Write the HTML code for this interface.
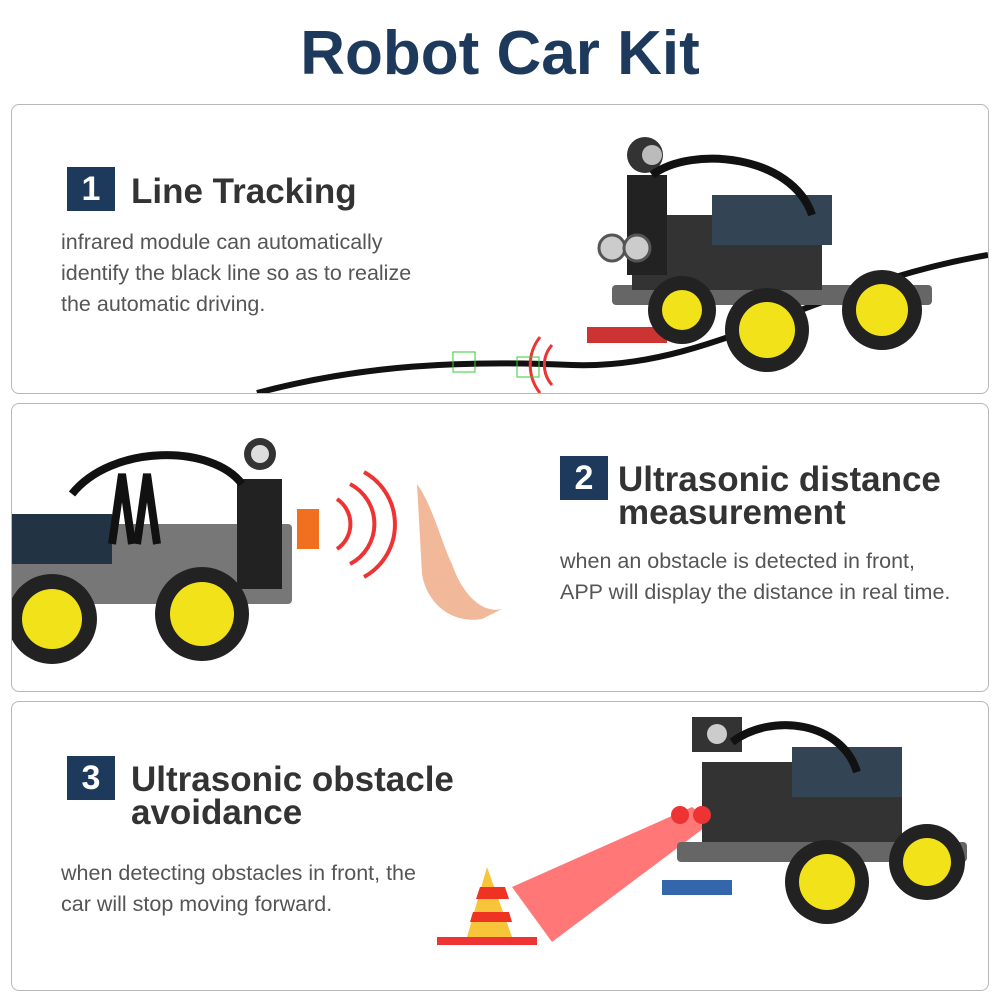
<!DOCTYPE html>
<html><head><meta charset="utf-8"><style>
body{margin:0;width:1000px;height:1000px;background:#fff;position:relative;overflow:hidden;font-family:"Liberation Sans",sans-serif}
.t{position:absolute;left:0;width:1000px;top:18px;text-align:center;font-size:62px;font-weight:bold;color:#1d3a5c}
.p{position:absolute;left:11px;width:976px;border:1px solid #b8b8b8;border-radius:8px;background:#fff;overflow:hidden}
.b{position:absolute;width:48px;height:44px;background:#1d3a5c;color:#fff;font-size:34px;font-weight:bold;text-align:center;line-height:44px}
.h{position:absolute;font-size:35px;font-weight:bold;color:#333;line-height:33px}
.x{position:absolute;font-size:21.5px;color:#555;line-height:31px}
svg{position:absolute;left:0;top:0}
</style></head><body>
<div class="t">Robot Car Kit</div>

<div class="p" style="top:104px;height:288px">
<svg width="976" height="288">
<path d="M245 288 C350 260 450 255 560 260 C700 265 800 180 976 150" stroke="#111" stroke-width="6" fill="none"/>
<path d="M540 240 a30 30 0 0 0 0 40 M528 232 a45 45 0 0 0 0 56" stroke="#e33" stroke-width="3" fill="none"/>
<rect x="575" y="222" width="80" height="16" fill="#c33"/>
<rect x="600" y="180" width="320" height="20" fill="#666" rx="4"/>
<rect x="620" y="110" width="190" height="75" fill="#333"/>
<rect x="700" y="90" width="120" height="50" fill="#345"/>
<circle cx="633" cy="50" r="18" fill="#333"/><circle cx="640" cy="50" r="10" fill="#bbb"/>
<rect x="615" y="70" width="40" height="100" fill="#222"/>
<circle cx="600" cy="143" r="13" fill="#ccc" stroke="#555" stroke-width="3"/><circle cx="625" cy="143" r="13" fill="#ccc" stroke="#555" stroke-width="3"/>
<path d="M640 70 C680 40 780 50 800 110" stroke="#111" stroke-width="8" fill="none"/>
<circle cx="755" cy="225" r="42" fill="#222"/><circle cx="755" cy="225" r="28" fill="#f2e21a"/>
<circle cx="870" cy="205" r="40" fill="#222"/><circle cx="870" cy="205" r="26" fill="#f2e21a"/>
<circle cx="670" cy="205" r="34" fill="#222"/><circle cx="670" cy="205" r="20" fill="#f2e21a"/>
<rect x="441" y="247" width="22" height="20" fill="none" stroke="#3c3"/><rect x="505" y="252" width="22" height="20" fill="none" stroke="#3c3"/>
</svg>
<div class="b" style="left:55px;top:62px">1</div>
<div class="h" style="left:119px;top:70px">Line Tracking</div>
<div class="x" style="left:49px;top:122px">infrared module can automatically<br>identify the black line so as to realize<br>the automatic driving.</div>
</div>

<div class="p" style="top:403px;height:287px">
<svg width="976" height="287">
<rect x="0" y="120" width="280" height="80" fill="#777" rx="4"/>
<rect x="0" y="110" width="100" height="50" fill="#234"/>
<rect x="225" y="75" width="45" height="110" fill="#222"/>
<circle cx="248" cy="50" r="16" fill="#333"/><circle cx="248" cy="50" r="9" fill="#ddd"/>
<rect x="285" y="105" width="22" height="40" fill="#f07020"/>
<path d="M60 90 C100 40 200 40 230 80" stroke="#111" stroke-width="8" fill="none"/>
<path d="M100 140 l10 -70 l10 70 M125 140 l10 -70 l10 70" stroke="#111" stroke-width="8" fill="none"/>
<path d="M325 95 a30 30 0 0 1 0 50 M338 80 a45 45 0 0 1 0 80 M352 68 a60 60 0 0 1 0 105" stroke="#e33" stroke-width="4" fill="none"/>
<path d="M405 80 C420 100 430 140 440 160 C450 190 470 210 490 205 L470 215 C440 220 415 200 410 170 Z" fill="#f1b99a"/>
<circle cx="40" cy="215" r="45" fill="#222"/><circle cx="40" cy="215" r="30" fill="#f2e21a"/>
<circle cx="190" cy="210" r="47" fill="#222"/><circle cx="190" cy="210" r="32" fill="#f2e21a"/>
</svg>
<div class="b" style="left:548px;top:52px">2</div>
<div class="h" style="left:606px;top:59px">Ultrasonic distance<br>measurement</div>
<div class="x" style="left:548px;top:142px">when an obstacle is detected in front,<br>APP will display the distance in real time.</div>
</div>

<div class="p" style="top:701px;height:288px">
<svg width="976" height="288">
<path d="M680 105 L500 185 L540 240 L700 120 Z" fill="#f55" opacity="0.8"/>
<path d="M475 165 L455 235 L500 235 Z" fill="#f7c43a"/><path d="M468 185 l25 0 l4 12 l-33 0 z M461 210 l36 0 l3 10 l-42 0z" fill="#ee3322"/>
<rect x="425" y="235" width="100" height="8" fill="#e33"/>
<rect x="665" y="140" width="290" height="20" fill="#666" rx="4"/>
<rect x="690" y="60" width="200" height="80" fill="#333"/>
<rect x="780" y="45" width="110" height="50" fill="#345"/>
<rect x="680" y="15" width="50" height="35" fill="#333"/><circle cx="705" cy="32" r="10" fill="#ccc"/>
<circle cx="668" cy="113" r="9" fill="#e33"/><circle cx="690" cy="113" r="9" fill="#e33"/>
<path d="M720 40 C760 10 830 20 845 70" stroke="#111" stroke-width="8" fill="none"/>
<rect x="650" y="178" width="70" height="15" fill="#36a"/>
<circle cx="815" cy="180" r="42" fill="#222"/><circle cx="815" cy="180" r="28" fill="#f2e21a"/>
<circle cx="915" cy="160" r="38" fill="#222"/><circle cx="915" cy="160" r="24" fill="#f2e21a"/>
</svg>
<div class="b" style="left:55px;top:54px">3</div>
<div class="h" style="left:119px;top:61px">Ultrasonic obstacle<br>avoidance</div>
<div class="x" style="left:49px;top:156px">when detecting obstacles in front, the<br>car will stop moving forward.</div>
</div>
</body></html>
